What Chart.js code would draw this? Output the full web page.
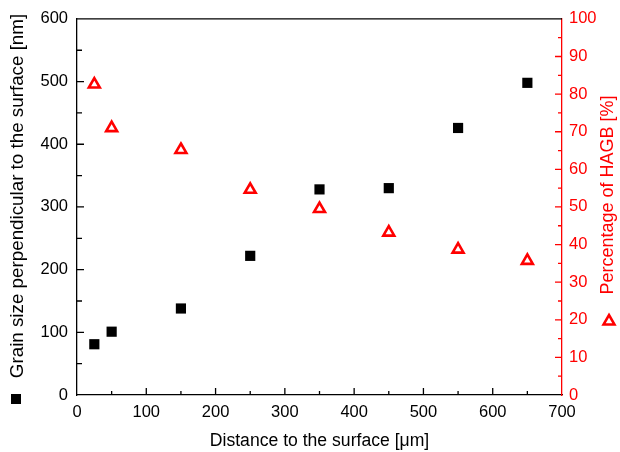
<!DOCTYPE html>
<html>
<head>
<meta charset="utf-8">
<script src="https://cdn.jsdelivr.net/npm/chart.js@4.4.1/dist/chart.umd.min.js"></script>
<style>
  html, body { margin: 0; padding: 0; background: #fff; }
  #wrap { width: 620px; height: 452px; }
</style>
</head>
<body>
<div id="wrap"><canvas id="chart"></canvas></div>
<script>
// Grain size and HAGB share vs. distance to the surface

const distance = [25, 50, 150, 250, 350, 450, 550, 650];
const grainSize = [81, 101, 138, 222, 328, 330, 426, 498];
const hagb = [82.6, 71, 65.2, 54.6, 49.5, 43.2, 38.7, 35.7];

const xTitle = 'Distance to the surface [μm]';
const yTitle = 'Grain size perpendicular to the surface [nm]';
const y1Title = 'Percentage of HAGB [%]';

const FONT = '"Liberation Sans", Arial, sans-serif';
const RED = '#ff0000';

// inward ticks, titles and the little legend markers next to the titles
const framePlugin = {
  id: 'frame',
  afterDraw(chart) {
    const { ctx, chartArea: a, scales } = chart;
    const x = scales.x, y = scales.y, y1 = scales.y1;
    ctx.save();
    ctx.lineWidth = 1.3;

    // top frame line
    ctx.strokeStyle = '#000';
    ctx.beginPath();
    ctx.moveTo(a.left, a.top);
    ctx.lineTo(a.right, a.top);
    ctx.stroke();

    ctx.beginPath();
    for (let v = 50; v < 700; v += 50) {
      const px = x.getPixelForValue(v);
      const len = v % 100 === 0 ? 7 : 4;
      ctx.moveTo(px, a.bottom);
      ctx.lineTo(px, a.bottom - len);
    }
    for (let v = 50; v < 600; v += 50) {
      const py = y.getPixelForValue(v);
      const len = v % 100 === 0 ? 7 : 5;
      ctx.moveTo(a.left, py);
      ctx.lineTo(a.left + len, py);
    }
    ctx.stroke();

    ctx.strokeStyle = RED;
    ctx.beginPath();
    for (let v = 5; v < 100; v += 5) {
      const py = y1.getPixelForValue(v);
      const len = v % 10 === 0 ? 7 : 4;
      ctx.moveTo(a.right, py);
      ctx.lineTo(a.right - len, py);
    }
    ctx.stroke();

    // titles
    ctx.textAlign = 'center';
    ctx.textBaseline = 'middle';
    ctx.fillStyle = '#000';
    ctx.font = '17.6px ' + FONT;
    ctx.fillText(xTitle, (a.left + a.right) / 2, 441);

    ctx.font = '18.8px ' + FONT;
    ctx.save();
    ctx.translate(18, 196);
    ctx.rotate(-Math.PI / 2);
    ctx.fillText(yTitle, 0, 0);
    ctx.restore();
    ctx.fillRect(11, 394, 10, 10);

    ctx.fillStyle = RED;
    ctx.font = '18px ' + FONT;
    ctx.save();
    ctx.translate(608, 195);
    ctx.rotate(-Math.PI / 2);
    ctx.fillText(y1Title, 0, 0);
    ctx.restore();
    ctx.strokeStyle = RED;
    ctx.lineWidth = 2.5;
    ctx.beginPath();
    ctx.moveTo(609, 315);
    ctx.lineTo(614.5, 324.5);
    ctx.lineTo(603.5, 324.5);
    ctx.closePath();
    ctx.stroke();

    ctx.restore();
  }
};

new Chart(document.getElementById('chart'), {
  type: 'scatter',
  data: {
    datasets: [
      {
        label: 'Grain size',
        data: distance.map((d, i) => ({ x: d, y: grainSize[i] })),
        yAxisID: 'y',
        pointStyle: 'rect',
        pointRadius: 7.2,
        backgroundColor: '#000',
        borderColor: '#000',
        borderWidth: 0
      },
      {
        label: 'HAGB',
        data: distance.map((d, i) => ({ x: d, y: hagb[i] })),
        yAxisID: 'y1',
        pointStyle: 'triangle',
        pointRadius: 6.3,
        backgroundColor: 'rgba(0,0,0,0)',
        borderColor: RED,
        borderWidth: 2.6
      }
    ]
  },
  options: {
    responsive: true,
    maintainAspectRatio: false,
    animation: false,
    layout: { padding: { top: 18, left: 0, right: 0, bottom: 0 } },
    plugins: {
      legend: { display: false },
      tooltip: { enabled: false }
    },
    scales: {
      x: {
        type: 'linear',
        min: 0,
        max: 700,
        ticks: { stepSize: 100, color: '#000', font: { family: FONT, size: 16.5 }, padding: 8, maxRotation: 0 },
        grid: { display: false, drawTicks: false },
        border: { display: true, color: '#000', width: 1.3 },
        afterFit: s => { s.height = 57; }
      },
      y: {
        type: 'linear',
        position: 'left',
        min: 0,
        max: 600,
        ticks: { stepSize: 100, color: '#000', font: { family: FONT, size: 16.5 }, padding: 9 },
        grid: { display: false, drawTicks: false },
        border: { display: true, color: '#000', width: 1.3 },
        afterFit: s => { s.width = 77; }
      },
      y1: {
        type: 'linear',
        position: 'right',
        min: 0,
        max: 100,
        ticks: { stepSize: 10, color: RED, font: { family: FONT, size: 16.5 }, padding: 7 },
        grid: { display: false, drawTicks: false },
        border: { display: true, color: RED, width: 1.3 },
        afterFit: s => { s.width = 58; }
      }
    }
  },
  plugins: [framePlugin]
});
</script>
</body>
</html>
